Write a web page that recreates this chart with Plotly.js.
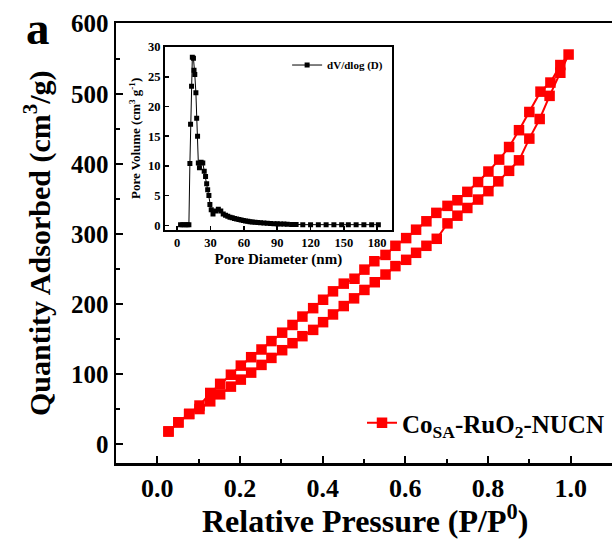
<!DOCTYPE html>
<html>
<head>
<meta charset="utf-8">
<script src="https://cdn.plot.ly/plotly-3.0.1.min.js"></script>
<style>html,body{margin:0;padding:0;background:#fff}</style>
</head>
<body>
<div id="chart" style="width:612px;height:546px"></div>
<script>
// Main isotherm: adsorption branch (lower), desorption branch (upper)
const adsP = [0.027,0.051,0.077,0.102,0.128,0.152,0.178,0.202,0.227,0.252,0.276,0.302,0.327,0.351,0.377,0.401,0.425,0.451,0.476,0.501,0.526,0.552,0.576,0.602,0.626,0.651,0.676,0.702,0.726,0.750,0.776,0.801,0.825,0.851,0.875,0.900,0.925,0.949,0.975,0.995];
const adsQ = [18,31,43,50,61,71,82,92,102,113,123,134,144,154,163,174,185,197,208,220,231,242,254,263,273,283,293,315,326,337,349,361,375,390,405,436,464,497,530,556];
const desP = [0.975,0.951,0.927,0.900,0.875,0.851,0.827,0.801,0.776,0.750,0.726,0.702,0.675,0.651,0.626,0.602,0.576,0.552,0.525,0.501,0.477,0.451,0.425,0.401,0.377,0.351,0.327,0.302,0.276,0.252,0.227,0.202,0.178,0.152,0.128,0.102,0.077,0.051,0.027];
const desQ = [541,516,503,474,448,424,406,389,374,360,348,340,330,318,306,294,283,270,261,249,236,229,218,206,194,182,170,159,147,135,124,112,99,86,73,55,43,31,18];
const mainName = 'Co<sub>SA</sub>-RuO<sub>2</sub>-NUCN';
const mainXTitle = 'Relative Pressure (P/P<sup>0</sup>)';
const mainYTitle = 'Quantity Adsorbed (cm<sup>3</sup>/g)';

// Inset: pore size distribution
const poreD = [3,5,7,9,10.5,11.4,12.0,12.9,13.6,14.6,15.1,15.8,16.8,17.5,18.3,19.0,20.0,21.5,23.0,24.3,25.5,26.5,27.4,28.5,29.4,30.6,32.2,34.5,37.0,39.2,41.4,43.5,45.5,47.5,49.5,51.5,53.5,55.5,57.5,59.5,61.5,63.5,65.5,67.5,70,72.5,75,78,81,84,87,90,93,96,99,103,107,113,120,127,134,141,148,154,161,168,175,181];
const poreV = [0.1,0.1,0.1,0.1,0.1,10.4,17.0,23.4,28.3,28.1,26.1,25.4,22.3,18.0,15.0,10.5,9.7,10.6,10.5,9.1,8.2,7.0,6.0,5.0,3.5,2.6,1.9,2.4,2.7,2.4,1.9,1.7,1.5,1.35,1.25,1.15,1.05,0.95,0.87,0.8,0.72,0.66,0.6,0.55,0.5,0.45,0.41,0.37,0.33,0.3,0.27,0.24,0.22,0.2,0.18,0.15,0.13,0.1,0.1,0.1,0.1,0.1,0.1,0.1,0.1,0.1,0.1,0.1];
const insetName = 'dV/dlog (D)';

const serif = 'Liberation Serif, Times New Roman, serif';
const B = (size) => ({family: serif, size: size, color: '#000', weight: 'bold'});

const traces = [
  {
    x: adsP.concat(desP), y: adsQ.concat(desQ),
    name: mainName, type: 'scatter', mode: 'lines+markers',
    line: {color: '#ff0000', width: 2},
    marker: {symbol: 'square', size: 10.5, color: '#ff0000'},
    xaxis: 'x', yaxis: 'y', legend: 'legend'
  },
  {
    x: poreD, y: poreV,
    name: insetName, type: 'scatter', mode: 'lines+markers',
    line: {color: '#000', width: 1},
    marker: {symbol: 'square', size: 5, color: '#000'},
    xaxis: 'x2', yaxis: 'y2', legend: 'legend2'
  }
];

const layout = {
  width: 612, height: 546,
  margin: {l: 116, r: 0, t: 23, b: 83},
  paper_bgcolor: '#fff', plot_bgcolor: '#fff',
  font: B(14),
  showlegend: true,
  xaxis: {
    domain: [0, 1], anchor: 'y',
    range: [-0.1, 1.1], tick0: 0, dtick: 0.2, tickformat: '.1f',
    ticks: 'inside', ticklen: 7, tickwidth: 2, tickcolor: '#000',
    minor: {dtick: 0.1, tick0: 0, ticks: 'inside', ticklen: 4, tickwidth: 2, tickcolor: '#000'},
    showline: true, linewidth: 2.5, linecolor: '#000', mirror: true,
    showgrid: false, zeroline: false,
    tickfont: B(26)
  },
  yaxis: {
    domain: [0, 1], anchor: 'x',
    range: [-27, 601], tick0: 0, dtick: 100,
    ticks: 'inside', ticklen: 7, tickwidth: 2, tickcolor: '#000',
    minor: {dtick: 50, tick0: 0, ticks: 'inside', ticklen: 4, tickwidth: 2, tickcolor: '#000'},
    showline: true, linewidth: 2.5, linecolor: '#000', mirror: false,
    showgrid: false, zeroline: false,
    tickfont: B(25)
  },
  xaxis2: {
    domain: [0.0988, 0.5558], anchor: 'y2',
    range: [-11, 193], tick0: 0, dtick: 30,
    ticks: 'inside', ticklen: 4, tickwidth: 1.5, tickcolor: '#000',
    showline: true, linewidth: 2, linecolor: '#000', mirror: true,
    showgrid: false, zeroline: false,
    tickfont: B(12.5),
    title: {text: 'Pore Diameter (nm)', font: B(15), standoff: 4}
  },
  yaxis2: {
    domain: [0.5295, 0.946], anchor: 'x2',
    range: [-0.8, 30.05], tick0: 0, dtick: 5,
    ticks: 'inside', ticklen: 4, tickwidth: 1.5, tickcolor: '#000',
    showline: true, linewidth: 2, linecolor: '#000', mirror: true,
    showgrid: false, zeroline: false,
    tickfont: B(12.5),
    title: {text: 'Pore Volume (cm<sup>3</sup> g<sup>-1</sup>)', font: B(13), standoff: 4}
  },
  legend: {
    x: 0.496, y: 0.0909, xanchor: 'left', yanchor: 'middle',
    bgcolor: 'rgba(0,0,0,0)', borderwidth: 0, font: B(25)
  },
  legend2: {
    x: 0.345, y: 0.9045, xanchor: 'left', yanchor: 'middle',
    bgcolor: 'rgba(0,0,0,0)', borderwidth: 0, font: B(11)
  },
  annotations: [
    {text: 'a', xref: 'paper', yref: 'paper', x: -0.157, y: 0.926,
     xanchor: 'center', yanchor: 'bottom', showarrow: false, font: B(47)},
    {text: mainYTitle, xref: 'paper', yref: 'paper', x: (37 - 116) / 496, y: 0.5,
     xanchor: 'center', yanchor: 'middle', textangle: -90, showarrow: false, font: B(30)},
    {text: mainXTitle, xref: 'paper', yref: 'paper', x: (365 - 116) / 496, y: (463 - 519) / 440,
     xanchor: 'center', yanchor: 'middle', showarrow: false, font: B(32)}
  ]
};

Plotly.newPlot('chart', traces, layout, {displayModeBar: false, staticPlot: true});
</script>
</body>
</html>
